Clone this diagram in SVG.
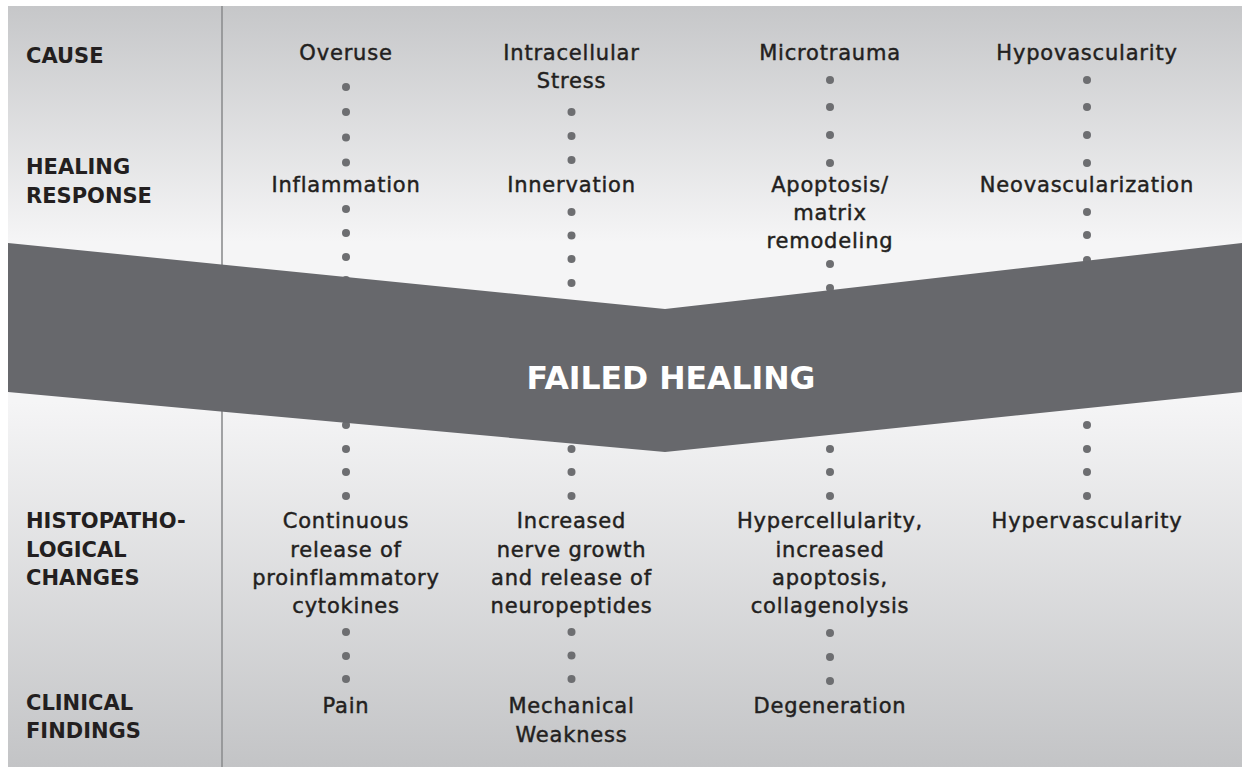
<svg xmlns="http://www.w3.org/2000/svg" width="1242" height="767" viewBox="0 0 1242 767">
  <defs>
    <linearGradient id="bg" x1="0" y1="6" x2="0" y2="767" gradientUnits="userSpaceOnUse">
      <stop offset="0" stop-color="#c6c7c9"/>
      <stop offset="0.31" stop-color="#f5f5f6"/>
      <stop offset="0.52" stop-color="#f5f5f6"/>
      <stop offset="1" stop-color="#c3c4c6"/>
    </linearGradient>
    <style>
      .row { font-family: "DejaVu Sans", "Liberation Sans", sans-serif; font-weight: 700; font-size: 21px; fill: #231f20; }
      .cell { font-family: "DejaVu Sans", "Liberation Sans", sans-serif; font-size: 21px; fill: #231f20; stroke: #231f20; stroke-width: 0.45px; text-anchor: middle; letter-spacing: 0.8px; }
      .dot { fill: #6d6e71; }
      .band { fill: #67686c; }
      .title { font-family: "DejaVu Sans", "Liberation Sans", sans-serif; font-weight: 700; font-size: 31.5px; fill: #ffffff; text-anchor: middle; }
    </style>
  </defs>

  <!-- panel background and row-label divider -->
  <rect x="8" y="6" width="1234" height="761" fill="url(#bg)"/>
  <line x1="222" y1="6" x2="222" y2="767" stroke="#8d8e90" stroke-width="1.6"/>

  <!-- dotted connectors between stages -->
  <g id="connectors" class="dot">
    <!-- column 1 -->
    <circle cx="346" cy="87" r="4"/><circle cx="346" cy="112" r="4"/><circle cx="346" cy="137.5" r="4"/><circle cx="346" cy="162.5" r="4"/>
    <circle cx="346" cy="209" r="4"/><circle cx="346" cy="233" r="4"/><circle cx="346" cy="257" r="4"/><circle cx="346" cy="280" r="4"/>
    <circle cx="346" cy="425" r="4"/><circle cx="346" cy="449" r="4"/><circle cx="346" cy="472" r="4"/><circle cx="346" cy="496" r="4"/>
    <circle cx="346" cy="632" r="4"/><circle cx="346" cy="656" r="4"/><circle cx="346" cy="679" r="4"/>
    <!-- column 2 -->
    <circle cx="571.5" cy="112" r="4"/><circle cx="571.5" cy="136" r="4"/><circle cx="571.5" cy="160" r="4"/>
    <circle cx="571.5" cy="212" r="4"/><circle cx="571.5" cy="235.5" r="4"/><circle cx="571.5" cy="259" r="4"/><circle cx="571.5" cy="283" r="4"/>
    <circle cx="571.5" cy="449" r="4"/><circle cx="571.5" cy="472" r="4"/><circle cx="571.5" cy="496" r="4"/>
    <circle cx="571.5" cy="632" r="4"/><circle cx="571.5" cy="655.5" r="4"/><circle cx="571.5" cy="679" r="4"/>
    <!-- column 3 -->
    <circle cx="830" cy="80" r="4"/><circle cx="830" cy="107" r="4"/><circle cx="830" cy="135" r="4"/><circle cx="830" cy="163" r="4"/>
    <circle cx="830" cy="264" r="4"/><circle cx="830" cy="288" r="4"/>
    <circle cx="830" cy="449" r="4"/><circle cx="830" cy="472" r="4"/><circle cx="830" cy="496" r="4"/>
    <circle cx="830" cy="633" r="4"/><circle cx="830" cy="657" r="4"/><circle cx="830" cy="681" r="4"/>
    <!-- column 4 -->
    <circle cx="1087" cy="80" r="4"/><circle cx="1087" cy="107" r="4"/><circle cx="1087" cy="135" r="4"/><circle cx="1087" cy="163" r="4"/>
    <circle cx="1087" cy="212" r="4"/><circle cx="1087" cy="235" r="4"/><circle cx="1087" cy="260" r="4"/>
    <circle cx="1087" cy="425" r="4"/><circle cx="1087" cy="449" r="4"/><circle cx="1087" cy="472" r="4"/><circle cx="1087" cy="496" r="4"/>
  </g>

  <!-- central chevron band -->
  <g id="failed-healing">
    <polygon class="band" points="8,243 665,309 1242,243 1242,392 665,452 8,392"/>
    <text class="title" x="671" y="389">FAILED HEALING</text>
  </g>

  <!-- row labels -->
  <g id="row-cause"><text class="row" x="26" y="63">CAUSE</text></g>
  <g id="row-healing"><text class="row" x="26" y="174">HEALING</text><text class="row" x="26" y="203">RESPONSE</text></g>
  <g id="row-histo"><text class="row" x="26" y="528">HISTOPATHO-</text><text class="row" x="26" y="557">LOGICAL</text><text class="row" x="26" y="585">CHANGES</text></g>
  <g id="row-clinical"><text class="row" x="26" y="710">CLINICAL</text><text class="row" x="26" y="738">FINDINGS</text></g>

  <!-- column 1 -->
  <g id="overuse"><text class="cell" x="346" y="60">Overuse</text></g>
  <g id="inflammation"><text class="cell" x="346" y="192">Inflammation</text></g>
  <g id="cytokines"><text class="cell" x="346" y="528">Continuous</text><text class="cell" x="346" y="557">release of</text><text class="cell" x="346" y="585">proinflammatory</text><text class="cell" x="346" y="613">cytokines</text></g>
  <g id="pain"><text class="cell" x="346" y="713">Pain</text></g>

  <!-- column 2 -->
  <g id="intracellular-stress"><text class="cell" x="571.5" y="60">Intracellular</text><text class="cell" x="571.5" y="88">Stress</text></g>
  <g id="innervation"><text class="cell" x="571.5" y="192">Innervation</text></g>
  <g id="nerve-growth"><text class="cell" x="571.5" y="528">Increased</text><text class="cell" x="571.5" y="557">nerve growth</text><text class="cell" x="571.5" y="585">and release of</text><text class="cell" x="571.5" y="613">neuropeptides</text></g>
  <g id="weakness"><text class="cell" x="571.5" y="713">Mechanical</text><text class="cell" x="571.5" y="742">Weakness</text></g>

  <!-- column 3 -->
  <g id="microtrauma"><text class="cell" x="830" y="60">Microtrauma</text></g>
  <g id="apoptosis"><text class="cell" x="830" y="192">Apoptosis/</text><text class="cell" x="830" y="220">matrix</text><text class="cell" x="830" y="248">remodeling</text></g>
  <g id="hypercellularity"><text class="cell" x="830" y="528">Hypercellularity,</text><text class="cell" x="830" y="557">increased</text><text class="cell" x="830" y="585">apoptosis,</text><text class="cell" x="830" y="613">collagenolysis</text></g>
  <g id="degeneration"><text class="cell" x="830" y="713">Degeneration</text></g>

  <!-- column 4 -->
  <g id="hypovascularity"><text class="cell" x="1087" y="60">Hypovascularity</text></g>
  <g id="neovascularization"><text class="cell" x="1087" y="192">Neovascularization</text></g>
  <g id="hypervascularity"><text class="cell" x="1087" y="528">Hypervascularity</text></g>
</svg>
